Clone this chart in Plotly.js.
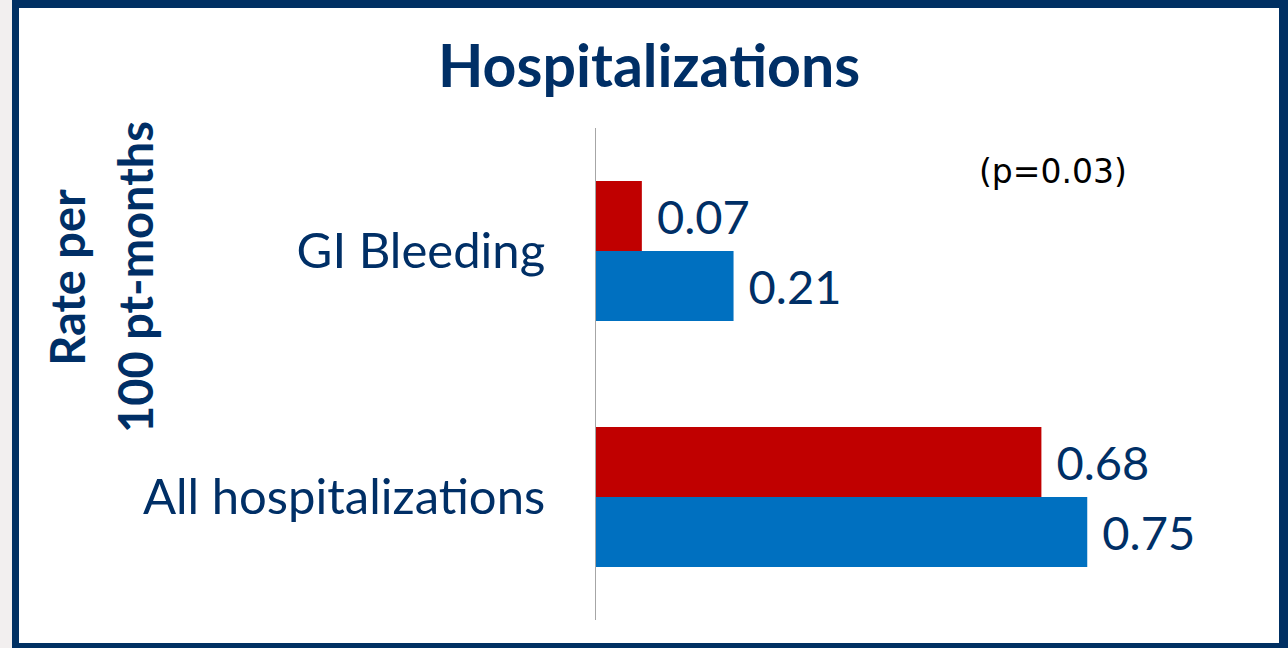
<!DOCTYPE html>
<html>
<head>
<meta charset="utf-8">
<script src="https://cdn.plot.ly/plotly-3.0.1.min.js"></script>
<style>
  html, body { margin: 0; padding: 0; background: #ffffff; overflow: hidden; }
  #chart { position: absolute; left: 0; top: 0; width: 1288px; height: 648px; }
  .frame { position: absolute; pointer-events: none; }
</style>
</head>
<body>
<div id="chart"></div>
<!-- slide frame: light strip at left, navy border round the chart -->
<div class="frame" style="left:0;top:0;width:12px;height:648px;background:#f2efef;"></div>
<div class="frame" style="left:12px;top:0;width:1276px;height:648px;box-sizing:border-box;
     border-style:solid;border-color:#003063;border-width:8px 9px 5px 7px;"></div>
<script>
// Hospitalization rates per 100 patient-months
const categories = ['GI Bleeding', 'All hospitalizations'];
const redRates = [0.07, 0.68];
const blueRates = [0.21, 0.75];
const pValueLabel = '(p=0.03)';

const navy = '#002f66';
const sans = 'Lato, "Noto Sans", sans-serif';
const valueFont = { family: sans, size: 47, color: navy };
const categoryFont = { family: sans, size: 49, color: navy };

const traces = [
  {
    type: 'bar', orientation: 'h', name: 'Cohort 1',
    y: categories, x: redRates,
    marker: { color: '#c00000' },
    texttemplate: ' %{x:.2f}', textposition: 'outside',
    textfont: valueFont, constraintext: 'none', cliponaxis: false,
    hoverinfo: 'x'
  },
  {
    type: 'bar', orientation: 'h', name: 'Cohort 2',
    y: categories, x: blueRates,
    marker: { color: '#0070c0' },
    texttemplate: ' %{x:.2f}', textposition: 'outside',
    textfont: valueFont, constraintext: 'none', cliponaxis: false,
    hoverinfo: 'x'
  }
];

const layout = {
  width: 1288, height: 648,
  margin: { l: 596, r: 37, t: 128, b: 28, pad: 0 },
  paper_bgcolor: '#ffffff', plot_bgcolor: '#ffffff',
  showlegend: false,
  barmode: 'group', bargap: 0.43, bargroupgap: 0,
  title: {
    text: '<b>Hospitalizations</b>',
    font: { family: sans, size: 59, color: navy },
    x: 0.504, xref: 'container', xanchor: 'center',
    y: 0.898, yref: 'container', yanchor: 'middle'
  },
  xaxis: {
    range: [0, 1], visible: false, showgrid: false, zeroline: false, fixedrange: true
  },
  yaxis: {
    type: 'category', range: [1.5, -0.5],
    showline: true, linecolor: '#a6a6a6', linewidth: 1,
    showgrid: false, zeroline: false, ticks: '',
    ticklabelstandoff: 40,
    tickfont: categoryFont, fixedrange: true
  },
  annotations: [
    {
      text: '<b>Rate per</b>', textangle: -90, showarrow: false,
      xref: 'paper', yref: 'paper', x: -0.808, y: 0.697,
      xanchor: 'center', yanchor: 'middle',
      font: { family: sans, size: 47, color: navy }
    },
    {
      text: '<b>100 pt-months</b>', textangle: -90, showarrow: false,
      xref: 'paper', yref: 'paper', x: -0.704, y: 0.697,
      xanchor: 'center', yanchor: 'middle',
      font: { family: sans, size: 47, color: navy }
    },
    {
      text: pValueLabel, showarrow: false,
      xref: 'paper', yref: 'paper', x: 0.698, y: 0.911,
      xanchor: 'center', yanchor: 'middle',
      font: { family: '"DejaVu Sans", sans-serif', size: 33, color: '#000000' }
    }
  ]
};

Plotly.newPlot('chart', traces, layout, { displayModeBar: false, staticPlot: true });
</script>
</body>
</html>
